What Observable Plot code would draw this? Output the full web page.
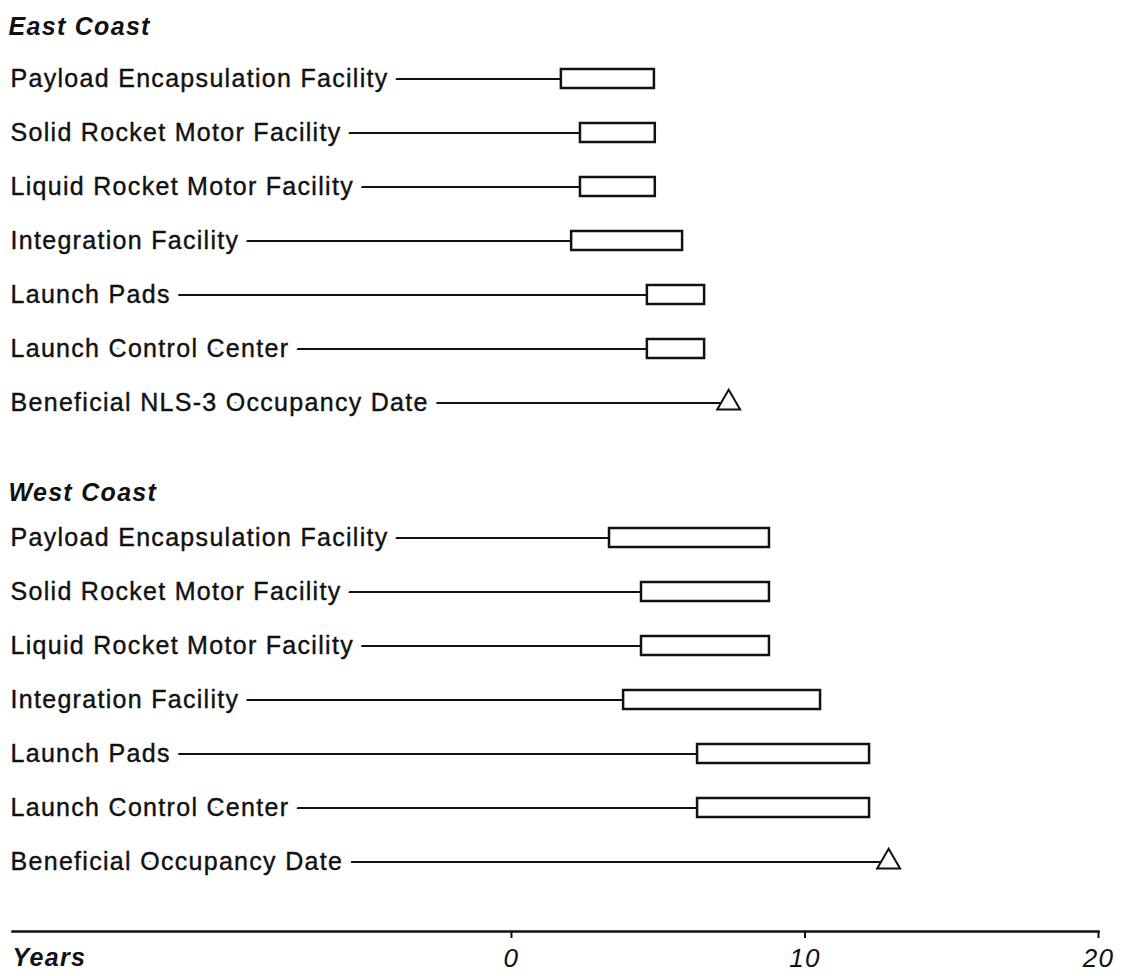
<!DOCTYPE html>
<html><head><meta charset="utf-8">
<script src="https://cdn.jsdelivr.net/npm/d3@7"></script>
<script src="https://cdn.jsdelivr.net/npm/@observablehq/plot@0.6"></script>
<style>
html,body{margin:0;padding:0;background:#fff;}
#chart svg text{letter-spacing:1.3px;}
</style></head><body><div id="chart"></div>
<script>
// ---- data ----
const coasts = ["East Coast", "West Coast"];
const keys = ["PEF", "SRM", "LRM", "INT", "LP", "LCC", "BOD"];
const eastLabels = ["Payload Encapsulation Facility", "Solid Rocket Motor Facility", "Liquid Rocket Motor Facility", "Integration Facility", "Launch Pads", "Launch Control Center", "Beneficial NLS-3 Occupancy Date"];
const westLabels = ["Payload Encapsulation Facility", "Solid Rocket Motor Facility", "Liquid Rocket Motor Facility", "Integration Facility", "Launch Pads", "Launch Control Center", "Beneficial Occupancy Date"];
const eastStart = [1.7, 2.35, 2.35, 2.05, 4.63, 4.63, 7.4];
const eastEnd   = [4.87, 4.9, 4.9, 5.83, 6.58, 6.58, null];
const westStart = [3.34, 4.43, 4.43, 3.82, 6.34, 6.34, 12.85];
const westEnd   = [8.79, 8.79, 8.79, 10.53, 12.2, 12.2, null];
const xTicks = [0, 10, 20];
const xDomain = [-17, 20];
const axisTitle = ["Years"];

// ---- table ----
const rows = [];
keys.forEach((k, i) => rows.push({coast: "East Coast", key: k, label: eastLabels[i], start: eastStart[i], end: eastEnd[i]}));
keys.forEach((k, i) => rows.push({coast: "West Coast", key: k, label: westLabels[i], start: westStart[i], end: westEnd[i]}));
const bars = rows.filter(d => d.end != null);
const milestones = rows.filter(d => d.end == null);

const ink = "#111";
const labelOpts = {fy: "coast", y: "key", text: "label", frameAnchor: "left", textAnchor: "start", lineAnchor: "middle", dx: -2, fontSize: 25};
const chart = Plot.plot({
  width: 1123, height: 976,
  marginTop: 48, marginBottom: 45, marginLeft: 12, marginRight: 25,
  style: {fontFamily: "'Liberation Sans', Arial, Helvetica, sans-serif", color: ink, background: "white"},
  x: {domain: xDomain},
  y: {domain: keys, axis: null, paddingInner: 0.65, paddingOuter: 0.711, align: 0.258},
  fy: {domain: coasts, axis: null, paddingInner: 0.0773, paddingOuter: 0},
  marks: [
    Plot.frame({anchor: "bottom", facet: "super", stroke: ink, strokeWidth: 2.5}),
    Plot.axisX({ticks: xTicks, tickSize: 7, tickPadding: 10, fontSize: 26, fontStyle: "italic", label: null, stroke: ink, strokeWidth: 2, fill: ink}),
    Plot.ruleY(rows, {fy: "coast", y: "key", x1: () => xDomain[0], x2: "start", stroke: ink, strokeWidth: 2}),
    Plot.barX(bars, {fy: "coast", y: "key", x1: "start", x2: "end", fill: "white", stroke: ink, strokeWidth: 2.5}),
    Plot.dot(milestones, {fy: "coast", y: "key", x: "start", symbol: "triangle", r: 8.5, fill: "white", stroke: ink, strokeWidth: 2}),
    // white halo hides the leader line behind each label
    Plot.text(rows, {...labelOpts, fill: "white", stroke: "white", strokeWidth: 20, strokeLinejoin: "round", paintOrder: "stroke"}),
    Plot.text(rows, {...labelOpts, fill: ink, stroke: ink, strokeWidth: 0.4}),
    Plot.text(coasts.slice(0, 1), {fy: d => d, text: d => d, frameAnchor: "top-left", lineAnchor: "middle", textAnchor: "start", dx: -4, dy: -22, fontSize: 25, fontWeight: "bold", fontStyle: "italic", fill: ink}),
    Plot.text(coasts.slice(1, 2), {fy: d => d, text: d => d, frameAnchor: "top-left", lineAnchor: "middle", textAnchor: "start", dx: -4, dy: -15, fontSize: 25, fontWeight: "bold", fontStyle: "italic", fill: ink}),
    Plot.text(axisTitle, {fy: () => coasts[1], text: d => d, frameAnchor: "bottom-left", lineAnchor: "middle", textAnchor: "start", dy: 26, fontSize: 25, fontWeight: "bold", fontStyle: "italic", fill: ink, style: "letter-spacing:0px"})
  ]
});
document.getElementById("chart").appendChild(chart);
</script>
</body></html>
